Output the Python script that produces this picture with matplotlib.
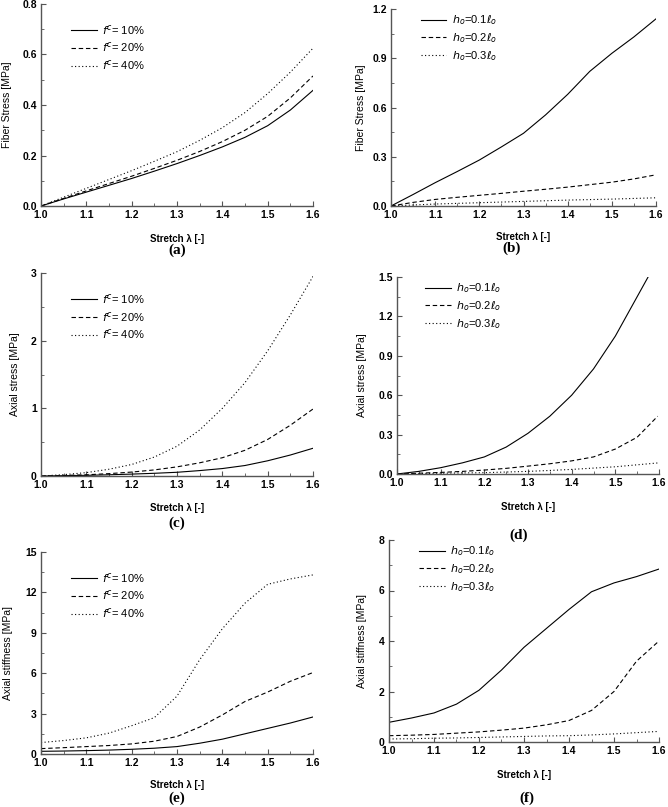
import matplotlib
matplotlib.use("Agg")
import matplotlib.pyplot as plt
from matplotlib.ticker import MultipleLocator, FormatStrFormatter

plt.rcParams['font.family'] = ['Liberation Sans', 'DejaVu Sans']
plt.rcParams['mathtext.fontset'] = 'dejavusans'

stretch = [1.0, 1.05, 1.1, 1.15, 1.2, 1.25, 1.3, 1.35, 1.4, 1.45, 1.5, 1.55, 1.6]

# (a) Fiber stress vs fiber volume fraction
a_f10 = [0, 0.028, 0.055, 0.082, 0.109, 0.138, 0.168, 0.2, 0.234, 0.272, 0.318, 0.38, 0.458]
a_f20 = [0, 0.03, 0.06, 0.089, 0.118, 0.149, 0.181, 0.216, 0.255, 0.3, 0.355, 0.428, 0.515]
a_f40 = [0, 0.035, 0.07, 0.105, 0.14, 0.177, 0.215, 0.26, 0.31, 0.37, 0.445, 0.53, 0.625]

# (b) Fiber stress vs thickness
b_h01 = [0, 0.07, 0.142, 0.21, 0.28, 0.36, 0.443, 0.555, 0.68, 0.82, 0.93, 1.03, 1.14]
b_h02 = [0, 0.022, 0.04, 0.053, 0.065, 0.077, 0.09, 0.102, 0.115, 0.13, 0.145, 0.165, 0.19]
b_h03 = [0, 0.006, 0.012, 0.016, 0.02, 0.024, 0.028, 0.032, 0.036, 0.039, 0.042, 0.046, 0.05]

# (c) Axial stress vs fiber volume fraction
c_f10 = [0, 0.005, 0.01, 0.018, 0.028, 0.04, 0.055, 0.08, 0.11, 0.155, 0.225, 0.31, 0.41]
c_f20 = [0, 0.008, 0.018, 0.035, 0.058, 0.09, 0.135, 0.195, 0.27, 0.38, 0.54, 0.75, 0.99]
c_f40 = [0, 0.02, 0.05, 0.1, 0.17, 0.28, 0.44, 0.68, 1.0, 1.38, 1.85, 2.38, 2.95]

# (d) Axial stress vs thickness
d_x_h01 = [1.0, 1.05, 1.1, 1.15, 1.2, 1.25, 1.3, 1.35, 1.4, 1.45, 1.5, 1.55, 1.575]
d_h01 = [0, 0.02, 0.048, 0.085, 0.13, 0.205, 0.31, 0.44, 0.6, 0.8, 1.05, 1.35, 1.5]
d_x_h02 = [1.0, 1.05, 1.1, 1.15, 1.2, 1.25, 1.3, 1.35, 1.4, 1.45, 1.5, 1.55, 1.597]
d_h02 = [0, 0.006, 0.012, 0.02, 0.03, 0.043, 0.06, 0.078, 0.1, 0.13, 0.19, 0.28, 0.44]
d_h03 = [0, 0.003, 0.006, 0.008, 0.01, 0.015, 0.02, 0.027, 0.035, 0.045, 0.055, 0.07, 0.085]

# (e) Axial stiffness vs fiber volume fraction
e_f10 = [0.2, 0.22, 0.25, 0.29, 0.35, 0.43, 0.55, 0.8, 1.1, 1.5, 1.9, 2.3, 2.75]
e_f20 = [0.4, 0.47, 0.55, 0.63, 0.75, 0.95, 1.3, 2.0, 2.9, 3.9, 4.6, 5.4, 6.05]
e_f40 = [0.85, 1.0, 1.2, 1.55, 2.1, 2.7, 4.3, 7.0, 9.3, 11.2, 12.6, 13.0, 13.3]

# (f) Axial stiffness vs thickness
f_h01 = [0.78, 0.95, 1.15, 1.5, 2.05, 2.85, 3.75, 4.5, 5.25, 5.95, 6.3, 6.55, 6.85]
f_h02 = [0.25, 0.27, 0.3, 0.35, 0.4, 0.47, 0.55, 0.68, 0.85, 1.25, 2.0, 3.2, 4.0]
f_h03 = [0.12, 0.13, 0.15, 0.16, 0.18, 0.2, 0.22, 0.24, 0.25, 0.28, 0.32, 0.37, 0.42]

frac_labels = [r"$f^c$= 10%", r"$f^c$= 20%", r"$f^c$= 40%"]
thick_labels = [r"$h_o$=0.1$\ell_o$", r"$h_o$=0.2$\ell_o$", r"$h_o$=0.3$\ell_o$"]
xticks = [1.0, 1.1, 1.2, 1.3, 1.4, 1.5, 1.6]

W, H = 668, 807
fig = plt.figure(figsize=(W / 100, H / 100), dpi=100)


def make_ax(l, r, t, b):
    return fig.add_axes([l / W, 1 - b / H, (r - l) / W, (b - t) / H])


styles = [dict(ls='-'), dict(ls=(0, (4, 2.5))), dict(ls=(0, (1, 2.2)))]
spine_c = '#555555'


def setup(ax, ymax, ystep, yfmt, ylabel, panel, xlab_y, panel_y, panel_x, ylab_x):
    ax.set_xlim(1.0, 1.6)
    ax.set_ylim(0, ymax)
    ax.set_xticks(xticks)
    ax.xaxis.set_major_formatter(FormatStrFormatter('%.1f'))
    ax.xaxis.set_minor_locator(MultipleLocator(0.05))
    ax.yaxis.set_major_locator(MultipleLocator(ystep))
    ax.yaxis.set_minor_locator(MultipleLocator(ystep / 2))
    ax.yaxis.set_major_formatter(FormatStrFormatter(yfmt))
    for s in ['top', 'right']:
        ax.spines[s].set_visible(False)
    for s in ['left', 'bottom']:
        ax.spines[s].set_color(spine_c)
        ax.spines[s].set_linewidth(1.0)
    ax.tick_params(which='major', direction='in', length=3.5, width=0.8,
                   color=spine_c, labelsize=7.5, pad=3)
    ax.tick_params(which='minor', direction='in', length=2, width=0.6, color=spine_c)
    for lab in ax.get_xticklabels() + ax.get_yticklabels():
        lab.set_fontweight('bold')
    ax.set_xlabel("Stretch λ [-]", fontsize=7, fontweight='bold')
    ax.set_ylabel(ylabel, fontsize=7.5)
    bb = ax.get_position()
    ax.xaxis.set_label_coords(0.5, (1 - xlab_y / H - bb.y0) / bb.height)
    ax.yaxis.set_label_coords((ylab_x / W - bb.x0) / bb.width, 0.5)
    fig.text(panel_x / W, 1 - panel_y / H, panel, family='Liberation Serif',
             fontweight='bold', fontsize=11, ha='center', va='center')


def draw(ax, xs, ys, labels, legend_loc):
    for x, y, lab, st in zip(xs, ys, labels, styles):
        ax.plot(x, y, color='black', lw=0.8, label=lab, **st)
    ax.legend(loc='upper left', bbox_to_anchor=legend_loc, frameon=False,
              fontsize=8, handlelength=2.3, handletextpad=0.5,
              labelspacing=0.35, borderaxespad=0)


# (a)
ax = make_ax(41, 313, 4, 206)
draw(ax, [stretch] * 3, [a_f10, a_f20, a_f40], frac_labels, (0.095, 0.93))
setup(ax, 0.8, 0.2, '%.1f', 'Fiber Stress [MPa]', '(a)', 234, 250, 177, 12)

# (b)
ax = make_ax(391, 656, 9, 206)
draw(ax, [stretch] * 3, [b_h01, b_h02, b_h03], thick_labels, (0.095, 1.0))
setup(ax, 1.2, 0.3, '%.1f', 'Fiber Stress [MPa]', '(b)', 232, 248, 512, 366)

# (c)
ax = make_ax(41, 313, 273, 476)
draw(ax, [stretch] * 3, [c_f10, c_f20, c_f40], frac_labels, (0.095, 0.93))
setup(ax, 3, 1, '%d', 'Axial stress [MPa]', '(c)', 503, 523, 177, 20)

# (d)
ax = make_ax(397, 659, 277, 474)
draw(ax, [d_x_h01, d_x_h02, stretch], [d_h01, d_h02, d_h03], thick_labels, (0.09, 1.0))
setup(ax, 1.5, 0.3, '%.1f', 'Axial stress [MPa]', '(d)', 502, 535, 519, 367)

# (e)
ax = make_ax(41, 313, 552, 754)
draw(ax, [stretch] * 3, [e_f10, e_f20, e_f40], frac_labels, (0.095, 0.93))
setup(ax, 15, 3, '%d', 'Axial stiffness [MPa]', '(e)', 780, 798, 177, 13)

# (f)
ax = make_ax(389, 659, 540, 742)
draw(ax, [stretch] * 3, [f_h01, f_h02, f_h03], thick_labels, (0.095, 1.0))
setup(ax, 8, 2, '%d', 'Axial stiffness [MPa]', '(f)', 770, 798, 527, 367)

fig.savefig('out.png', dpi=100)
